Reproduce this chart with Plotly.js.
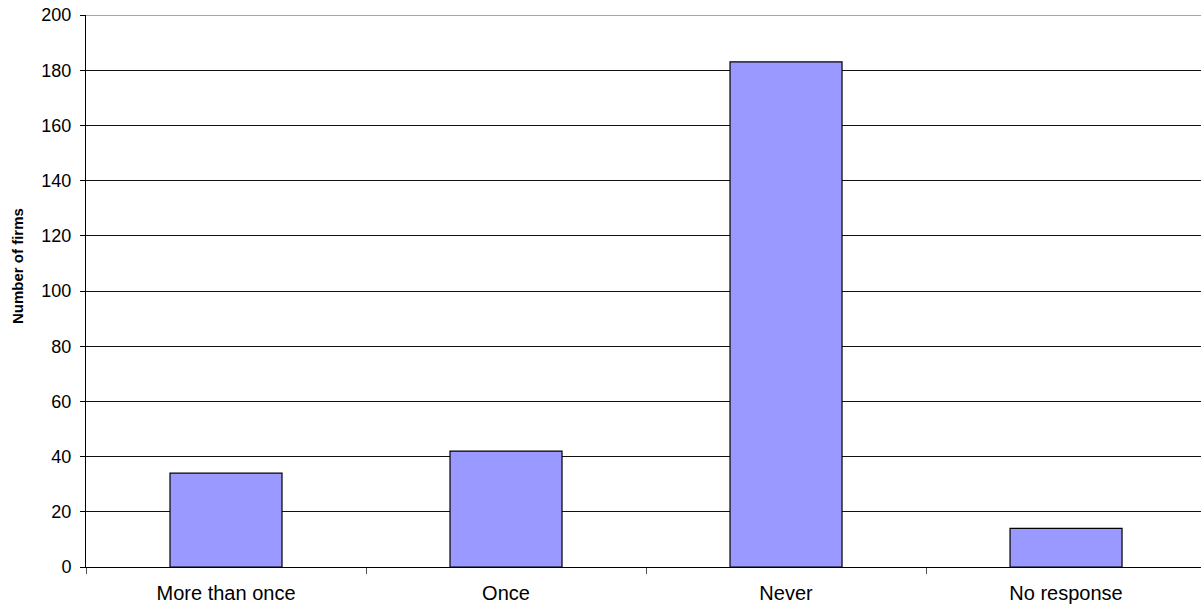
<!DOCTYPE html>
<html>
<head>
<meta charset="utf-8">
<script src="https://cdn.plot.ly/plotly-3.0.1.min.js"></script>
<style>html,body{margin:0;padding:0;background:#fff;}#chart{width:1201px;height:607px;}</style>
</head>
<body>
<div id="chart"></div>
<script>
const categories = ["More than once", "Once", "Never", "No response"];
const firms = [34, 42, 183, 14];
const yTicks = [0, 20, 40, 60, 80, 100, 120, 140, 160, 180, 200];
const yTitle = "Number of firms";

const trace = {
  type: "bar",
  x: categories,
  y: firms,
  width: 0.4,
  marker: {color: "#9999ff", line: {color: "#000000", width: 1.2}},
  hoverinfo: "x+y"
};

const layout = {
  width: 1201,
  height: 607,
  margin: {l: 86, r: 0, t: 15, b: 40},
  paper_bgcolor: "#ffffff",
  plot_bgcolor: "#ffffff",
  showlegend: false,
  font: {family: "Liberation Sans, Arial, sans-serif", color: "#000"},
  xaxis: {
    type: "category",
    range: [-0.5, 3.482],
    tickson: "boundaries",
    ticks: "outside",
    ticklen: 6,
    tickcolor: "#555",
    showgrid: false,
    showline: true,
    linecolor: "#000",
    linewidth: 1,
    ticklabelstandoff: 8,
    tickfont: {size: 20, family: "Liberation Sans, Arial, sans-serif"},
    fixedrange: true
  },
  yaxis: {
    range: [0, 200],
    tickvals: yTicks,
    ticktext: yTicks.map(String),
    ticks: "outside",
    ticklen: 5,
    tickcolor: "#000",
    showgrid: true,
    gridcolor: "#111",
    gridwidth: 1,
    zeroline: false,
    showline: true,
    linecolor: "#000",
    linewidth: 1,
    ticklabelstandoff: 5,
    tickfont: {size: 18, family: "Liberation Sans, Arial, sans-serif"},
    automargin: false,
    fixedrange: true
  },
  shapes: [{
    type: "line", xref: "paper", yref: "y", x0: 0, x1: 1, y0: 200, y1: 200,
    line: {color: "#888", width: 1.5}
  }],
  annotations: [{
    text: "<b>" + yTitle + "</b>",
    textangle: -90,
    xref: "paper", yref: "paper",
    x: (17 - 86) / 1115, y: (567 - 266) / 552,
    xanchor: "center", yanchor: "middle",
    showarrow: false,
    font: {size: 15, family: "Liberation Sans Narrow, Liberation Sans, Arial, sans-serif", color: "#000"}
  }]
};

Plotly.newPlot("chart", [trace], layout, {displayModeBar: false, staticPlot: true});
</script>
</body>
</html>
